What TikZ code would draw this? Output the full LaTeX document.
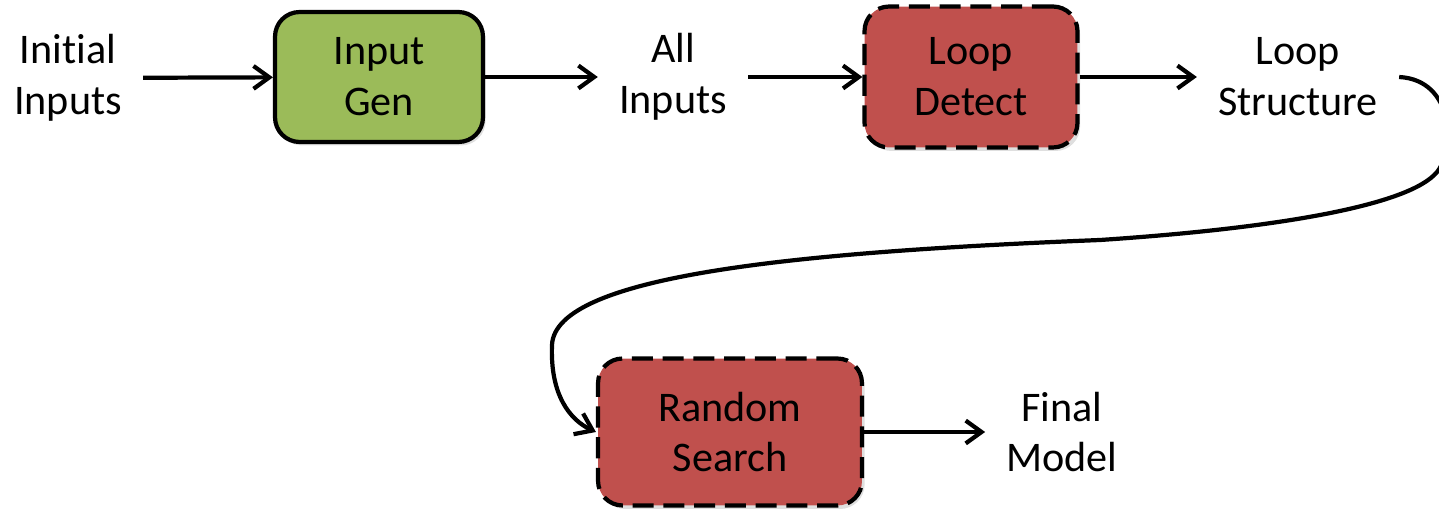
\documentclass[tikz,border=0pt]{standalone}
\usepackage{fontspec}
\setmainfont[Ligatures=NoCommon]{Carlito}
\usetikzlibrary{arrows.meta,shadows}

\definecolor{genfill}{HTML}{9BBB59}
\definecolor{stepfill}{HTML}{C0504D}

\tikzset{
  stage/.style={draw, line width=2.4pt, rounded corners=14pt, align=center,
    drop shadow={opacity=0.25, shadow xshift=1.5pt, shadow yshift=-2pt}},
  genbox/.style={stage, fill=genfill},
  searchbox/.style={stage, fill=stepfill, dash pattern=on 12pt off 5.5pt},
  datatext/.style={align=center, inner xsep=0.42cm},
  flow/.style={->, line width=2.4pt}
}

\begin{document}
\begin{tikzpicture}[x=0.02cm, y=-0.02cm, >={Straight Barb[length=9pt,width=13pt]},
  font=\fontsize{24}{29}\selectfont]
\useasboundingbox (0,0) rectangle (1439,509);

% top row
\node[datatext] (init) at (68,78) {Initial\\Inputs};
\node[genbox, minimum width=4.16cm, minimum height=2.6cm] (gen) at (379,77) {Input\\Gen};
\node[datatext] (all) at (673,77) {All\\Inputs};
\node[searchbox, minimum width=4.26cm, minimum height=2.82cm] (detect) at (971,77) {Loop\\Detect};
\node[datatext] (loops) at (1298,77) {Loop\\Structure};

% bottom row
\node[searchbox, minimum width=5.28cm, minimum height=2.94cm] (search) at (730,432) {Random\\Search};
\node[datatext] (final) at (1062,432) {Final\\Model};

\draw[flow] (init) -- (gen);
\draw[flow] (gen) -- (all);
\draw[flow] (all) -- (detect);
\draw[flow] (detect) -- (loops);
\draw[flow] (search) -- (final);

% long way round
\draw[flow] (loops.east) .. controls (1455,80) and (1455,150) .. (1437,172)
  .. controls (1410,205) and (1280,228) .. (1100,240)
  .. controls (800,252) and (555,275) .. (552,345)
  .. controls (550,395) and (570,420) .. (search.west);
\end{tikzpicture}
\end{document}
